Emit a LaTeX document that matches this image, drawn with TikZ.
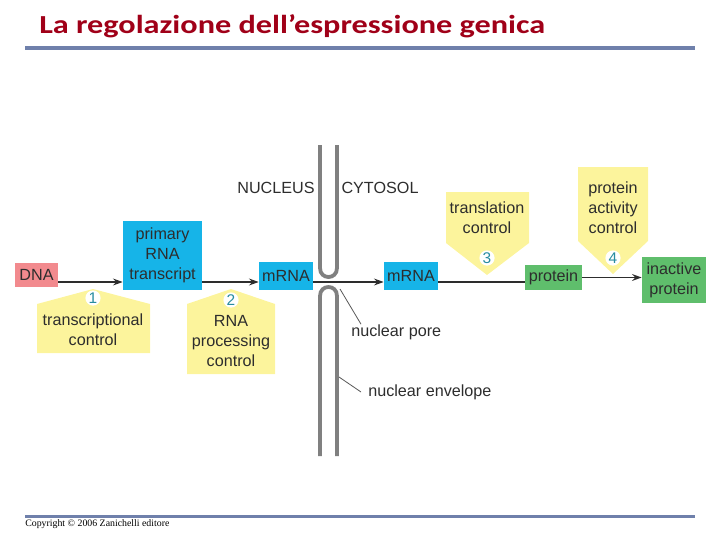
\documentclass[tikz,border=0pt]{standalone}
\usepackage{fontspec}
\setmainfont{Liberation Sans}
\newfontfamily\titlefont{Carlito}
\newfontfamily\notefont{Liberation Serif}
\usetikzlibrary{positioning, arrows.meta, calc}
\definecolor{titlered}{RGB}{160,0,24}
\definecolor{rulegrey}{RGB}{111,128,171}
\definecolor{dnapink}{RGB}{242,138,142}
\definecolor{rnablue}{RGB}{22,180,232}
\definecolor{protgreen}{RGB}{95,190,108}
\definecolor{calloutyellow}{RGB}{252,244,156}
\definecolor{ink}{RGB}{45,45,45}
\definecolor{numteal}{RGB}{40,140,160}
\definecolor{wallgrey}{RGB}{128,128,128}
\tikzset{
  box/.style={text=ink,inner sep=0pt,align=center},
  dnabox/.style={box,fill=dnapink},
  rnabox/.style={box,fill=rnablue},
  protbox/.style={box,fill=protgreen},
  callout/.style={fill=calloutyellow},
  calltext/.style={text=ink,align=center,inner sep=0pt},
  stepnum/.style={circle,fill=white,text=numteal,inner sep=0pt,minimum size=3.8mm,font=\fontsize{11}{11}\selectfont},
  flowarrow/.style={->,line width=0.4mm,ink},
  wall/.style={line width=0.95mm,wallgrey},
  leader/.style={line width=0.2mm,ink!80},
}

\begin{document}
\begin{tikzpicture}[x=0.25mm,y=-0.25mm,font=\fontsize{11.5}{14.2}\selectfont,>={Stealth[length=2.4mm,width=1.7mm]}]
  \useasboundingbox (0,0) rectangle (720,540);
  % title and rules
  \node[anchor=base west,inner sep=0pt,text=titlered,font=\titlefont\bfseries\fontsize{18.5}{22}\selectfont] (title) at (39,33) {\scalebox{1.24}[1]{La regolazione dell’espressione genica}};
  \fill[rulegrey] (25,45.5) rectangle (695,49.5);
  \fill[rulegrey] (25,514.5) rectangle (695,517.5);
  \node[anchor=west,inner sep=0pt,font=\notefont\fontsize{7}{8}\selectfont] (copy) at (25,524) {Copyright © 2006 Zanichelli editore};

  % yellow callouts
  \fill[callout] (37,304) -- (93,289) -- (150,304) -- (150,353) -- (37,353) -- cycle;
  \fill[callout] (187,304) -- (231,289) -- (275,304) -- (275,374) -- (187,374) -- cycle;
  \fill[callout] (446,192) -- (529,192) -- (529,243) -- (487,275) -- (446,243) -- cycle;
  \fill[callout] (578,167) -- (648,167) -- (648,241) -- (613,274) -- (578,241) -- cycle;
  \node[calltext] (c1) at (93,330) {transcriptional\\control};
  \node[calltext] (c2) at (231,341) {RNA\\processing\\control};
  \node[calltext] (c3) at (487,218) {translation\\control};
  \node[calltext] (c4) at (613,208) {protein\\activity\\control};
  \node[stepnum] (n1) at (93,298) {1};
  \node[stepnum] (n2) at (231,300) {2};
  \node[stepnum] (n3) at (487,258) {3};
  \node[stepnum] (n4) at (613,258) {4};

  % nuclear envelope with pore
  \draw[wall] (320,145) -- (320,268) .. controls (320,280) and (337,280) .. (337,268) -- (337,145);
  \draw[wall] (320,456) -- (320,296) .. controls (320,284) and (337,284) .. (337,296) -- (337,456);
  \node[text=ink] (nucleus) at (276,188) {NUCLEUS};
  \node[text=ink] (cytosol) at (380,188) {CYTOSOL};

  % boxes
  \node[dnabox,minimum width=10.75mm,minimum height=6mm] (dna) at (36.5,275) {DNA};
  \node[rnabox,minimum width=19.75mm,minimum height=17.25mm] (prim) at (162.5,255.5) {primary\\RNA\\transcript};
  \node[rnabox,minimum width=13.5mm,minimum height=7mm] (mrnaA) at (286,276) {mRNA};
  \node[rnabox,minimum width=13.5mm,minimum height=7mm] (mrnaB) at (411,276) {mRNA};
  \node[protbox,minimum width=14.25mm,minimum height=6.25mm] (prot) at (553.5,277.5) {protein};
  \node[protbox,minimum width=16mm,minimum height=11.5mm] (inact) at (674,280) {inactive\\protein};

  % flow
  \coordinate (flow) at (0,282);
  \draw[flowarrow] (dna.east |- flow) -- (prim.west |- flow);
  \draw[flowarrow] (prim.east |- flow) -- (mrnaA.west |- flow);
  \draw[flowarrow] (mrnaA.east |- flow) -- (mrnaB.west |- flow);
  \draw[flowarrow,-] (mrnaB.east |- flow) -- (prot.west |- flow);
  \draw[flowarrow] (prot.east) -- (inact.west |- prot.east);

  % labels
  \node[anchor=west,inner sep=0pt,text=ink] (pore) at (351,332) {nuclear pore};
  \node[anchor=west,inner sep=0pt,text=ink] (env) at (368,392) {nuclear envelope};
  \coordinate (porept) at (340,289);
  \coordinate (envpt) at (339,377);
  \draw[leader] (porept) -- ($(pore.north west)+(10,0)$);
  \draw[leader] (envpt) -- ($(env.west)+(-7,0)$);
\end{tikzpicture}
\end{document}
